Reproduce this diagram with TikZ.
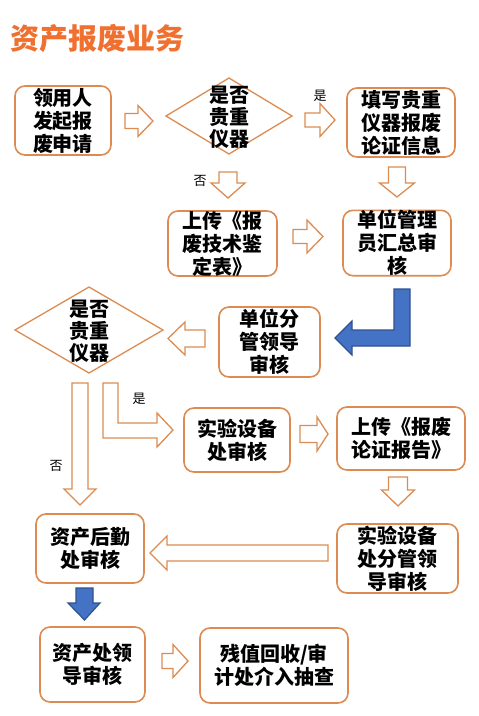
\documentclass[tikz,border=0pt]{standalone}
\usepackage{fontspec}
\setmainfont{Noto Sans CJK SC}
\usetikzlibrary{positioning}
\definecolor{titlec}{RGB}{240,112,48}
\definecolor{borderc}{RGB}{220,140,82}
\definecolor{bluef}{RGB}{68,114,196}
\definecolor{blued}{RGB}{47,82,143}
\newcommand\rarrowR[6]{% x0 xb xt yc hs hh
  \draw[hol] (#1,{#4-#5}) -- (#2,{#4-#5}) -- (#2,{#4-#6}) -- (#3,#4) -- (#2,{#4+#6}) -- (#2,{#4+#5}) -- (#1,{#4+#5}) -- cycle;}
\newcommand\rarrowD[6]{% y0 yb yt xc hs hh
  \draw[hol] ({#4-#5},#1) -- ({#4-#5},#2) -- ({#4-#6},#2) -- (#4,#3) -- ({#4+#6},#2) -- ({#4+#5},#2) -- ({#4+#5},#1) -- cycle;}
\tikzset{
  hol/.style={draw=borderc, fill=white, line width=1.3pt, line join=miter},
  bluearr/.style={draw=blued, fill=bluef, line width=1.2pt, line join=miter},
  box/.style={draw=borderc, line width=1.6pt, rounded corners=10pt, align=center,
    font=\fontsize{20}{23}\selectfont\bfseries, inner sep=0pt},
  dia/.style={draw=borderc, line width=1.3pt, line join=miter},
  dtext/.style={align=center, font=\fontsize{20}{22}\selectfont\bfseries, inner sep=0pt},
  lab/.style={font=\fontsize{13}{15}\selectfont, inner sep=0pt},
}
\newcommand\bx[6]{% name x1 y1 x2 y2 text
  \node[box, minimum width={#4-#2}, minimum height={#5-#3}] (#1) at ({(#2+#4)/2},{(#3+#5)/2}) {#6};}
\begin{document}
\begin{tikzpicture}[x=1pt,y=-1pt]
\useasboundingbox[fill=white] (0,0) rectangle (479,716);
% title
\node[anchor=west, text=titlec, font=\fontsize{29}{32}\selectfont\bfseries, inner sep=0pt] (title) at (10,39) {资产报废业务};
% boxes
\bx{b1}{15}{86}{111}{155}{领用人\\发起报\\废申请}
\bx{b2}{347}{88}{455}{157}{填写贵重\\仪器报废\\论证信息}
\bx{b3}{168}{212}{277}{275}{上传《报\\废技术鉴\\定表》}
\bx{b4}{343}{211}{451}{275}{单位管理\\员汇总审\\核}
\bx{b5}{219}{307}{320}{377}{单位分\\管领导\\审核}
\bx{b6}{184}{408}{290}{472}{实验设备\\处审核}
\bx{b7}{337}{407}{465}{470}{上传《报废\\论证报告》}
\bx{b8}{337}{524}{458}{593}{实验设备\\处分管领\\导审核}
\bx{b9}{36}{514}{144}{583}{资产后勤\\处审核}
\bx{b10}{40}{627}{145}{702}{资产处领\\导审核}
\bx{b11}{200}{628}{348}{703}{残值回收/审\\计处介入抽查}
% diamonds
\draw[dia] (166,116) -- (229,78) -- (292,116) -- (229,154) -- cycle;
\node[dtext] (d1) at (229,117) {是否\\贵重\\仪器};
\draw[dia] (15,330) -- (89,287) -- (163,330) -- (89,373) -- cycle;
\node[dtext] (d2) at (89,331) {是否\\贵重\\仪器};
% labels
\node[lab] (l1) at (320,96) {是};
\node[lab] (l2) at (200,181) {否};
\node[lab] (l3) at (139,399) {是};
\node[lab] (l4) at (56,466) {否};
% hollow arrows
\rarrowR{125}{138}{153}{121}{7.5}{15.5}
\rarrowR{305}{320}{335}{120}{7}{16.5}
\rarrowD{167}{183}{197}{397}{8.5}{17.5}
\rarrowD{172}{183}{198}{228}{9}{17}
\rarrowR{293}{307}{323}{236.5}{7}{16.5}
\rarrowR{205}{185}{168}{338.5}{8.5}{16.5}
\rarrowD{383}{489}{505}{80}{8}{16}
\draw[hol] (103,383) -- (118,383) -- (118,423) -- (157,423) -- (157,413) -- (173,430) -- (157,447) -- (157,438) -- (103,438) -- cycle;
\rarrowR{300}{317}{328}{434}{8.5}{17}
\rarrowD{477}{490}{506}{398}{9.5}{16.5}
\rarrowR{328}{167}{150}{553}{8}{17}
\rarrowR{162}{173}{188}{661}{7.5}{16.5}
% blue arrows
\draw[bluearr] (394,289) -- (410,289) -- (410,346) -- (352,346) -- (352,355) -- (335,338) -- (352,321) -- (352,330) -- (394,330) -- cycle;
\draw[bluearr] (76,588) -- (93,588) -- (93,603) -- (100,603) -- (84.5,620) -- (68,603) -- (76,603) -- cycle;
\end{tikzpicture}
\end{document}
